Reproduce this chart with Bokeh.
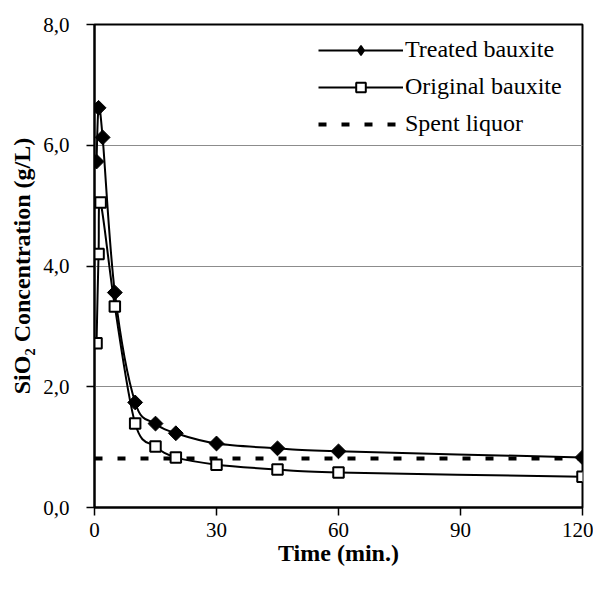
from bokeh.plotting import figure
from bokeh.models import (Legend, LegendItem, FixedTicker, ColumnDataSource,
                          Range1d)
from bokeh.embed import file_html
from bokeh.resources import INLINE

# ---- data ----
treated_t = [0.5, 1, 2, 5, 10, 15, 20, 30, 45, 60, 120]
treated_c = [5.73, 6.62, 6.13, 3.56, 1.74, 1.39, 1.23, 1.06, 0.98, 0.93, 0.83]
original_t = [0.5, 1, 1.5, 5, 10, 15, 20, 30, 45, 60, 120]
original_c = [2.72, 4.20, 5.05, 3.33, 1.39, 1.01, 0.83, 0.71, 0.63, 0.58, 0.51]
spent_t = [0, 120]
spent_c = [0.81, 0.81]
x_ticks = [0, 30, 60, 90, 120]
y_ticks = [0, 2, 4, 6, 8]
y_tick_labels = ["0,0", "2,0", "4,0", "6,0", "8,0"]

FONT = "Liberation Serif"


def smooth_segments(xs, ys):
    """Bezier control points (Excel-like smoothed line) from the data points."""
    n = len(xs)
    out = dict(x0=[], y0=[], x1=[], y1=[], cx0=[], cy0=[], cx1=[], cy1=[])
    for i in range(n - 1):
        xp, yp = (xs[i - 1], ys[i - 1]) if i > 0 else (xs[i], ys[i])
        xn2, yn2 = (xs[i + 2], ys[i + 2]) if i + 2 < n else (xs[i + 1], ys[i + 1])
        out["x0"].append(xs[i]); out["y0"].append(ys[i])
        out["x1"].append(xs[i + 1]); out["y1"].append(ys[i + 1])
        out["cx0"].append(xs[i] + (xs[i + 1] - xp) / 6.0)
        out["cy0"].append(ys[i] + (ys[i + 1] - yp) / 6.0)
        out["cx1"].append(xs[i + 1] - (xn2 - xs[i]) / 6.0)
        out["cy1"].append(ys[i + 1] - (yn2 - ys[i]) / 6.0)
    return ColumnDataSource(out)


p = figure(width=593, height=582, x_range=(0, 120), y_range=(0, 8),
           output_backend="svg", toolbar_location=None,
           min_border_left=94, min_border_right=11, min_border_top=24,
           min_border_bottom=75)
p.background_fill_color = "white"
p.border_fill_color = "white"
p.outline_line_color = "black"
p.outline_line_width = 2
# a range that lies entirely outside the data: used only for a legend marker
p.extra_y_ranges = {"legend_only": Range1d(start=100, end=108)}

# grid
p.xgrid.grid_line_color = None
p.ygrid.ticker = FixedTicker(ticks=[2, 4, 6])
p.ygrid.grid_line_color = "#8c8c8c"
p.ygrid.grid_line_width = 1.2

# axes
for ax in (p.xaxis[0], p.yaxis[0]):
    ax.axis_line_color = "black"
    ax.axis_line_width = 2
    ax.major_tick_line_color = "black"
    ax.major_tick_line_width = 1.5
    ax.major_tick_in = 0
    ax.major_tick_out = 8
    ax.minor_tick_line_color = None
    ax.major_label_text_font = FONT
    ax.major_label_text_font_size = "21px"
    ax.major_label_text_color = "black"
    ax.axis_label_text_font = FONT
    ax.axis_label_text_font_size = "24px"
    ax.axis_label_text_font_style = "bold"
    ax.axis_label_text_color = "black"

p.xaxis.ticker = FixedTicker(ticks=x_ticks)
p.yaxis.ticker = FixedTicker(ticks=y_ticks)
p.yaxis.major_label_overrides = {t: l for t, l in zip(y_ticks, y_tick_labels)}
p.xaxis.major_label_standoff = 7
p.yaxis.major_label_standoff = 17
p.xaxis.axis_label = "Time (min.)"
p.yaxis.axis_label = "SiO\u2082 Concentration (g/L)"
p.xaxis.axis_label_standoff = 0
p.yaxis.axis_label_standoff = 5

# spent liquor dashed line
r_spent = p.line(spent_t, spent_c, line_color="black", line_width=4,
                 line_dash="8 15")

# smoothed curves
b_treat = p.bezier(x0="x0", y0="y0", x1="x1", y1="y1", cx0="cx0", cy0="cy0",
                   cx1="cx1", cy1="cy1",
                   source=smooth_segments(treated_t, treated_c),
                   line_color="black", line_width=2)
b_orig = p.bezier(x0="x0", y0="y0", x1="x1", y1="y1", cx0="cx0", cy0="cy0",
                  cx1="cx1", cy1="cy1",
                  source=smooth_segments(original_t, original_c),
                  line_color="black", line_width=2)

r_orig = p.scatter(original_t, original_c, marker="square", size=10.5,
                   fill_color="white", line_color="black", line_width=2)
treat_src = ColumnDataSource(dict(t=treated_t, c=treated_c))
p.scatter("t", "c", source=treat_src, marker="square", angle=0.785398,
          size=10.5, fill_color="black", line_color="black", line_width=1)

# legend-only diamond marker (mapped to the out-of-view range)
m_treat = p.scatter("t", "c", source=treat_src, y_range_name="legend_only",
                    marker="diamond", size=17, fill_color="black",
                    line_color="black", line_width=1.5)

legend = Legend(items=[
    LegendItem(label="Treated bauxite", renderers=[b_treat, m_treat]),
    LegendItem(label="Original bauxite", renderers=[b_orig, r_orig]),
    LegendItem(label="Spent liquor", renderers=[r_spent]),
], location=(224, 370))
legend.label_text_font = FONT
legend.label_text_font_size = "24px"
legend.label_text_color = "black"
legend.glyph_width = 85
legend.glyph_height = 24
legend.label_height = 24
legend.spacing = 10
legend.padding = 0
legend.margin = 0
legend.label_standoff = 2
legend.border_line_color = None
legend.background_fill_alpha = 0
p.add_layout(legend)

open("out.html", "w").write(file_html(p, INLINE))
